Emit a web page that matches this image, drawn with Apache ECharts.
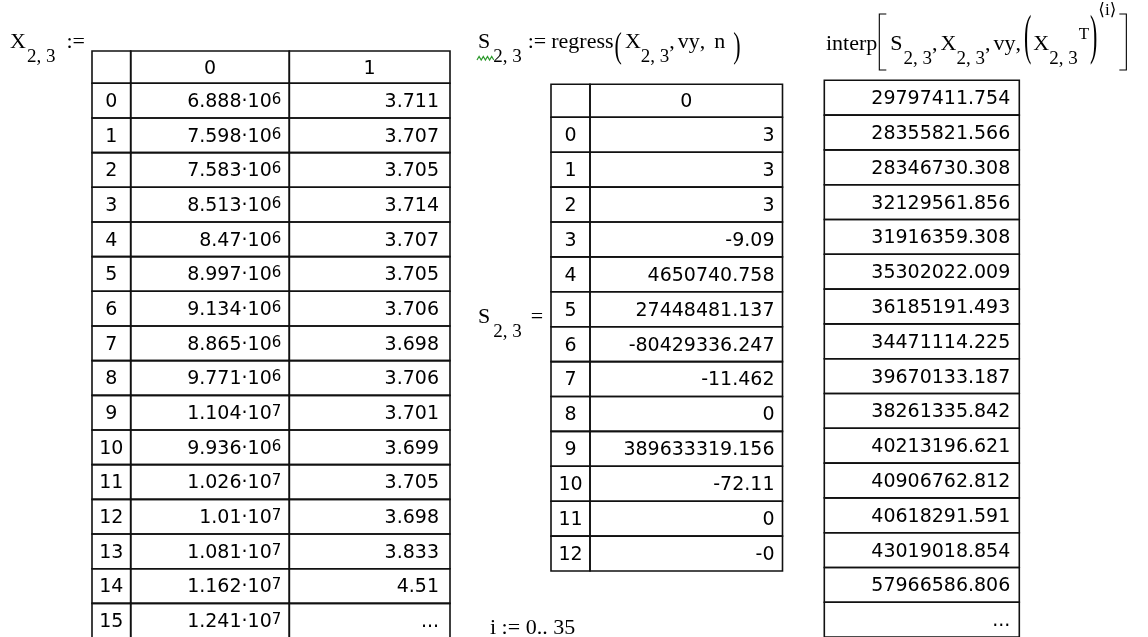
<!DOCTYPE html>
<html>
<head>
<meta charset="utf-8">
<title>regress / interp worksheet</title>
<script src="https://cdn.jsdelivr.net/npm/echarts@6.0.0/dist/echarts.min.js"></script>
<style>
html,body{margin:0;padding:0;background:#ffffff;}
#chart{width:1148px;height:637px;}
</style>
</head>
<body>
<div id="chart"></div>
<script>
// ---------------- data ----------------
const xRowLabels = ['0','1','2','3','4','5','6','7','8','9','10','11','12','13','14','15'];
const xColLabels = ['0','1'];
const xCol0Mantissa = ['6.888','7.598','7.583','8.513','8.47','8.997','9.134','8.865','9.771','1.104','9.936','1.026','1.01','1.081','1.162','1.241'];
const xCol0Exponent = ['6','6','6','6','6','6','6','6','6','7','6','7','7','7','7','7'];
const xCol1Values = ['3.711','3.707','3.705','3.714','3.707','3.705','3.706','3.698','3.706','3.701','3.699','3.705','3.698','3.833','4.51','...'];
const sRowLabels = ['0','1','2','3','4','5','6','7','8','9','10','11','12'];
const sColLabels = ['0'];
const sValues = ['3','3','3','-9.09','4650740.758','27448481.137','-80429336.247','-11.462','0','389633319.156','-72.11','0','-0'];
const interpValues = ['29797411.754','28355821.566','28346730.308','32129561.856','31916359.308','35302022.009','36185191.493','34471114.225','39670133.187','38261335.842','40213196.621','40906762.812','40618291.591','43019018.854','57966586.806','...'];
const rangeText = 'i := 0.. 35';

// ---------------- styles / layout ----------------
const CELL_FONT = '"DejaVu Sans", Verdana, sans-serif';
const CELL_SIZE = 19;
const SUP_SIZE = 15;
const LINE_COLOR = '#111111';
const LINE_W = 1.6;
const TEXT_DY = 1.5;
const MATH_FONT = '"Liberation Serif", "DejaVu Serif", serif';

const tableDefs = [
  {
    layout: { edges: [92, 130.7, 289.3, 450], headerTop: 51, headerH: 32.3, bodyTop: 83.3, rowH: 34.67 },
    rowCount: xRowLabels.length,
    header: ['', xColLabels[0], xColLabels[1]],
    columns: [
      { cell: i => ({ text: xRowLabels[i] }), align: 'center' },
      { cell: i => ({ mant: xCol0Mantissa[i], exp: xCol0Exponent[i] }), align: 'right', pad: 8 },
      { cell: i => ({ text: xCol1Values[i] }), align: 'right', pad: 11 }
    ]
  },
  {
    layout: { edges: [551, 590, 782.5], headerTop: 84.3, headerH: 33, bodyTop: 117.3, rowH: 34.9 },
    rowCount: sRowLabels.length,
    header: ['', sColLabels[0]],
    columns: [
      { cell: i => ({ text: sRowLabels[i] }), align: 'center' },
      { cell: i => ({ text: sValues[i] }), align: 'right', pad: 8 }
    ]
  },
  {
    layout: { edges: [824.3, 1019.3], headerTop: null, headerH: 0, bodyTop: 80.3, rowH: 34.8 },
    rowCount: interpValues.length,
    header: null,
    columns: [
      { cell: i => ({ text: interpValues[i] }), align: 'right', pad: 9 }
    ]
  }
];

// ---------------- build option ----------------
const grid = [], xAxis = [], yAxis = [], series = [];

function cellTextEl(cell, align, x, y) {
  if (cell.mant !== undefined) {
    return {
      type: 'text', x: x, y: y,
      style: {
        text: '{m|' + cell.mant + '·10}{e|' + cell.exp + '}',
        align: align, verticalAlign: 'middle',
        rich: {
          m: { fontSize: CELL_SIZE, fontFamily: CELL_FONT, fill: '#000', lineHeight: 19 },
          e: { fontSize: SUP_SIZE, fontFamily: CELL_FONT, fill: '#000', lineHeight: 15, verticalAlign: 'top' }
        }
      }
    };
  }
  return {
    type: 'text', x: x, y: y,
    style: { text: cell.text, fontSize: CELL_SIZE, fontFamily: CELL_FONT, fill: '#000', align: align, verticalAlign: 'middle' }
  };
}

function addBlock(left, top, width, rowH, nRows, cellFn, align, pad) {
  const gi = grid.length;
  const cats = [];
  for (let i = 0; i < nRows; i++) cats.push('r' + i);
  grid.push({ left: left, top: top, width: width, height: rowH * nRows, show: false, containLabel: false, outerBoundsMode: 'none' });
  xAxis.push({ type: 'category', gridIndex: gi, data: ['c'], show: false });
  yAxis.push({ type: 'category', gridIndex: gi, data: cats, inverse: true, show: false });
  series.push({
    type: 'custom', coordinateSystem: 'cartesian2d', xAxisIndex: gi, yAxisIndex: gi,
    silent: true, animation: false, clip: false,
    data: cats.map((_, i) => [0, i]),
    renderItem: function (params, api) {
      const c = api.coord([api.value(0), api.value(1)]);
      const s = api.size([1, 1]);
      const x0 = c[0] - s[0] / 2, y0 = c[1] - s[1] / 2;
      const children = [{
        type: 'rect',
        shape: { x: x0, y: y0, width: s[0], height: s[1] },
        style: { fill: 'none', stroke: LINE_COLOR, lineWidth: LINE_W }
      }];
      const cell = cellFn(params.dataIndex);
      if (cell && (cell.text || cell.mant)) {
        const tx = align === 'right' ? x0 + s[0] - pad : c[0];
        children.push(cellTextEl(cell, align, tx, c[1] + TEXT_DY));
      }
      return { type: 'group', children: children };
    }
  });
}

tableDefs.forEach(def => {
  const L = def.layout;
  def.columns.forEach((col, j) => {
    const left = L.edges[j], width = L.edges[j + 1] - L.edges[j];
    if (def.header) {
      const h = def.header[j];
      addBlock(left, L.headerTop, width, L.headerH, 1, () => ({ text: h }), 'center', 0);
    }
    addBlock(left, L.bodyTop, width, L.rowH, def.rowCount, col.cell, col.align, col.pad || 0);
  });
});

// ---------------- formula text (annotations) ----------------
const mctx = document.createElement('canvas').getContext('2d');
function measure(text, font) { mctx.font = font; return mctx.measureText(text).width; }

function formula(x0, pieces) {
  const out = [];
  let x = x0;
  pieces.forEach(p => {
    x += p.dx || 0;
    if (p.bracket) {
      const w = p.w;
      const pts = p.bracket === '['
        ? [[x + w, p.top], [x, p.top], [x, p.bottom], [x + w, p.bottom]]
        : [[x, p.top], [x + w, p.top], [x + w, p.bottom], [x, p.bottom]];
      out.push({ type: 'polyline', silent: true, shape: { points: pts }, style: { stroke: '#000', lineWidth: 1.1, fill: null } });
      x += w;
      return;
    }
    const fs = p.fs;
    const font = fs + 'px ' + (p.family || MATH_FONT);
    const w = measure(p.t, font);
    let midY;
    if (p.cy !== undefined) midY = p.cy - 0.1 * fs * (p.sy || 1);
    else midY = p.base - 0.3375 * fs;
    const el = {
      type: 'text', x: x, y: midY, silent: true,
      style: { text: p.t, font: font, fill: '#000', align: 'left', verticalAlign: 'middle' }
    };
    if (p.sy) el.scaleY = p.sy;
    out.push(el);
    x += w;
  });
  return out;
}

const M = 22, SUB = 19;
const f1 = formula(10, [
  { t: 'X', fs: M, base: 50 },
  { t: '2, 3', fs: SUB, base: 63, dx: 1 },
  { t: ':=', fs: M, base: 50, dx: 11 }
]);
const f2 = formula(478, [
  { t: 'S', fs: M, base: 50 },
  { t: '2, 3', fs: SUB, base: 63, dx: 3 },
  { t: ':=', fs: M, base: 50, dx: 6 },
  { t: 'regress', fs: M, base: 50, dx: 5 },
  { t: '(', fs: M, cy: 51, sy: 1.6, dx: 1 },
  { t: 'X', fs: M, base: 50, dx: 3 },
  { t: '2, 3', fs: SUB, base: 63 },
  { t: ',', fs: M, base: 50 },
  { t: 'vy', fs: M, base: 50, dx: 3 },
  { t: ',', fs: M, base: 50 },
  { t: 'n', fs: M, base: 50, dx: 9 },
  { t: ')', fs: M, cy: 51, sy: 1.6, dx: 8 }
]);
const f3 = formula(478, [
  { t: 'S', fs: M, base: 325 },
  { t: '2, 3', fs: SUB, base: 338, dx: 3 },
  { t: '=', fs: M, base: 325, dx: 9 }
]);
const f4 = formula(490, [
  { t: rangeText, fs: M, base: 636 }
]);
const f5 = formula(826, [
  { t: 'interp', fs: M, base: 52 },
  { bracket: '[', w: 7, top: 14, bottom: 70, dx: 2 },
  { t: 'S', fs: M, base: 52, dx: 4 },
  { t: '2, 3', fs: SUB, base: 65, dx: 1 },
  { t: ',', fs: M, base: 52 },
  { t: 'X', fs: M, base: 52, dx: 3 },
  { t: '2, 3', fs: SUB, base: 65 },
  { t: ',', fs: M, base: 52 },
  { t: 'vy', fs: M, base: 52, dx: 3 },
  { t: ',', fs: M, base: 52 },
  { t: '(', fs: M, cy: 44, sy: 2.5, dx: 3 },
  { t: 'X', fs: M, base: 52, dx: 2 },
  { t: '2, 3', fs: SUB, base: 65 },
  { t: 'T', fs: 17, base: 40, dx: 1 },
  { t: ')', fs: M, cy: 44, sy: 2.5, dx: 1 },
  { t: '⟨i⟩', fs: 17, base: 16, dx: 1, family: '"Liberation Serif", "DejaVu Serif", "DejaVu Sans", serif' },
  { bracket: ']', w: 7, top: 14, bottom: 70, dx: 3 }
]);

// green wavy underline under S in the regress definition
const wave = [];
for (let k = 0; k <= 8; k++) wave.push([477 + k * 2.1, k % 2 ? 56.5 : 60]);
const waveEl = { type: 'polyline', silent: true, shape: { points: wave }, style: { stroke: '#2e9a2e', lineWidth: 1.2, fill: null } };

const option = {
  backgroundColor: '#ffffff',
  animation: false,
  grid: grid,
  xAxis: xAxis,
  yAxis: yAxis,
  series: series,
  graphic: { elements: [].concat(f1, f2, f3, f4, f5, [waveEl]) }
};

const chart = echarts.init(document.getElementById('chart'), null, { renderer: 'canvas' });
chart.setOption(option);
</script>
</body>
</html>
